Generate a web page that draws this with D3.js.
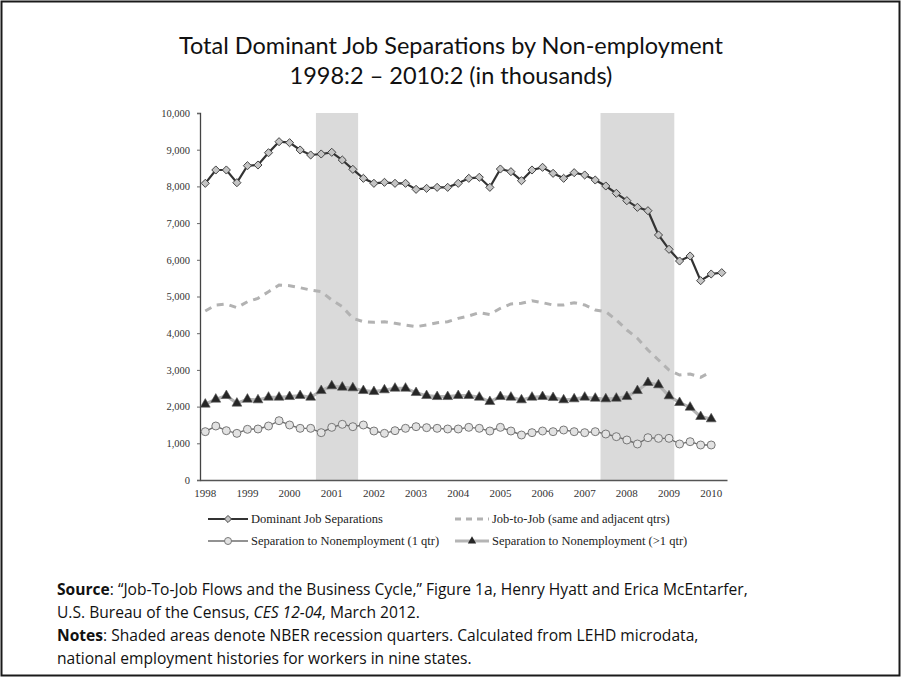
<!DOCTYPE html>
<html><head><meta charset="utf-8">
<script src="https://cdn.jsdelivr.net/npm/d3@7"></script>
<style>
html,body{margin:0;padding:0;background:#fff;}
svg{display:block;}
</style></head>
<body>
<svg id="chart" width="902" height="678"></svg>
<script>
// ---------- DATA ----------
const quarters = [
 "1998Q2","1998Q3","1998Q4","1999Q1","1999Q2","1999Q3","1999Q4","2000Q1","2000Q2","2000Q3",
 "2000Q4","2001Q1","2001Q2","2001Q3","2001Q4","2002Q1","2002Q2","2002Q3","2002Q4","2003Q1",
 "2003Q2","2003Q3","2003Q4","2004Q1","2004Q2","2004Q3","2004Q4","2005Q1","2005Q2","2005Q3",
 "2005Q4","2006Q1","2006Q2","2006Q3","2006Q4","2007Q1","2007Q2","2007Q3","2007Q4","2008Q1",
 "2008Q2","2008Q3","2008Q4","2009Q1","2009Q2","2009Q3","2009Q4","2010Q1","2010Q2","2010Q3"];
const yearLabels = ["1998","1999","2000","2001","2002","2003","2004","2005","2006","2007","2008","2009","2010"];
const yearLabelQuarters = ["1998Q2","1999Q2","2000Q2","2001Q2","2002Q2","2003Q2","2004Q2","2005Q2","2006Q2","2007Q2","2008Q2","2009Q2","2010Q2"];
const yTicks = [0,1000,2000,3000,4000,5000,6000,7000,8000,9000,10000];
const recessions = [["2001Q1","2001Q4"],["2007Q4","2009Q2"]];

const dominant = [8084,8447,8447,8101,8564,8583,8918,9218,9191,8992,
 8856,8883,8929,8719,8465,8220,8084,8111,8084,8084,
 7920,7947,7974,7974,8084,8220,8248,7974,8474,8401,
 8156,8447,8520,8356,8220,8374,8311,8174,8011,7812,
 7611,7430,7338,6676,6286,5967,6104,5431,5613,5649];
const jobToJob = [4605,4768,4796,4695,4859,4950,5131,5313,5295,5240,
 5177,5131,4905,4723,4405,4314,4296,4314,4269,4223,
 4178,4223,4287,4314,4405,4470,4560,4510,4678,4796,
 4814,4886,4832,4768,4768,4832,4768,4632,4587,4360,
 4087,3861,3542,3270,2997,2861,2888,2798,2951];
const sepOneQtr = [1317,1471,1344,1271,1381,1390,1471,1616,1499,1408,
 1408,1290,1435,1517,1453,1499,1335,1271,1344,1408,
 1453,1426,1408,1390,1390,1435,1408,1335,1435,1335,
 1226,1290,1335,1317,1362,1317,1290,1317,1253,1181,
 1090,981,1153,1135,1135,981,1044,954,954];
const sepMoreQtr = [2063,2199,2297,2090,2199,2180,2253,2253,2270,2297,
 2253,2433,2561,2526,2507,2433,2406,2452,2498,2498,
 2379,2297,2270,2270,2297,2297,2253,2134,2270,2253,
 2180,2253,2270,2243,2180,2207,2253,2225,2207,2225,
 2270,2433,2652,2589,2289,2107,1980,1726,1662];

const legendLabels = ["Dominant Job Separations","Job-to-Job (same and adjacent qtrs)",
 "Separation to Nonemployment (1 qtr)","Separation to Nonemployment (>1 qtr)"];

// ---------- CHART ----------
const svg = d3.select("#chart");
const serif = "'Liberation Serif','DejaVu Serif',serif";
const sans = "Lato,'Open Sans',sans-serif";
const sans2 = "'Open Sans',Lato,sans-serif";

// frame
svg.append("rect").attr("x",1.5).attr("y",1.5).attr("width",898).attr("height",674)
  .attr("fill","#fff").attr("stroke","#1a1a1a").attr("stroke-width",2);

// title
svg.append("text").attr("x",451).attr("y",54).attr("text-anchor","middle")
  .attr("font-family",sans).attr("font-size",23.5).attr("fill","#111")
  .text("Total Dominant Job Separations by Non-employment");
svg.append("text").attr("x",451).attr("y",84).attr("text-anchor","middle")
  .attr("font-family",sans).attr("font-size",23.5).attr("fill","#111")
  .text("1998:2 \u2013 2010:2 (in thousands)");

const x = d3.scaleBand().domain(quarters).range([200,727]);
const bw = x.bandwidth();
const cx = q => x(q) + bw/2;
const y = d3.scaleLinear().domain([0,10000]).range([480,113]);

// recession shading
svg.append("g").selectAll("rect").data(recessions).join("rect")
  .attr("x", d => x(d[0]))
  .attr("width", d => x(d[1]) + bw - x(d[0]))
  .attr("y", y(10000)).attr("height", y(0)-y(10000))
  .attr("fill","#dadada");

// y axis
const yAxis = d3.axisLeft(y).tickValues(yTicks).tickFormat(d3.format(",")).tickSize(3).tickPadding(7);
const gy = svg.append("g").attr("transform","translate(200,0)").call(yAxis);
gy.select(".domain").attr("stroke","#444").attr("stroke-width",1.3);
gy.selectAll(".tick line").attr("stroke","#666");
gy.selectAll("text").attr("font-family",serif).attr("font-size",10.5).attr("fill","#333");

// x axis
const xAxis = d3.axisBottom(x).tickValues(yearLabelQuarters)
  .tickFormat((d,i) => yearLabels[i]).tickSize(0).tickPadding(9);
const gx = svg.append("g").attr("transform","translate(0,480)").call(xAxis);
gx.select(".domain").attr("stroke","#555").attr("stroke-width",1.3);
gx.selectAll("text").attr("font-family",serif).attr("font-size",11).attr("fill","#333");

const line = d3.line().x((d,i) => cx(quarters[i])).y(d => y(d));

// job-to-job dashed
svg.append("path").datum(jobToJob).attr("d",line).attr("fill","none")
  .attr("stroke","#b2b2b2").attr("stroke-width",3).attr("stroke-dasharray","7,6");

// sep >1 qtr
svg.append("path").datum(sepMoreQtr).attr("d",line).attr("fill","none")
  .attr("stroke","#b5b5b5").attr("stroke-width",3.2);
svg.append("g").selectAll("path").data(sepMoreQtr).join("path")
  .attr("transform",(d,i)=>`translate(${cx(quarters[i])},${y(d)})`)
  .attr("d", d3.symbol(d3.symbolTriangle, 42))
  .attr("fill","#262626").attr("stroke","#555").attr("stroke-width",0.6);

// sep 1 qtr
svg.append("path").datum(sepOneQtr).attr("d",line).attr("fill","none")
  .attr("stroke","#6e6e6e").attr("stroke-width",1.4);
svg.append("g").selectAll("circle").data(sepOneQtr).join("circle")
  .attr("cx",(d,i)=>cx(quarters[i])).attr("cy",d=>y(d)).attr("r",4)
  .attr("fill","#e2e2e2").attr("stroke","#777").attr("stroke-width",1);

// dominant
svg.append("path").datum(dominant).attr("d",line).attr("fill","none")
  .attr("stroke","#333").attr("stroke-width",2.2);
svg.append("g").selectAll("path").data(dominant).join("path")
  .attr("transform",(d,i)=>`translate(${cx(quarters[i])},${y(d)})`)
  .attr("d", d3.symbol(d3.symbolDiamond2, 42))
  .attr("fill","#c4c4c4").attr("stroke","#444").attr("stroke-width",1);

// legend
const leg = svg.append("g").attr("font-family",serif).attr("font-size",12.5).attr("fill","#222");
const legendPos = [[208,519],[455,519],[208,541],[455,541]];
legendPos.forEach((p,i)=>{
  const g = leg.append("g").attr("transform",`translate(${p[0]},${p[1]})`);
  if(i===0){
    g.append("line").attr("x1",0).attr("x2",40).attr("stroke","#333").attr("stroke-width",2.2);
    g.append("path").attr("transform","translate(20,0)").attr("d",d3.symbol(d3.symbolDiamond2,32))
      .attr("fill","#c4c4c4").attr("stroke","#444");
  } else if(i===1){
    g.append("line").attr("x1",0).attr("x2",34).attr("stroke","#b2b2b2").attr("stroke-width",3).attr("stroke-dasharray","6,5");
  } else if(i===2){
    g.append("line").attr("x1",0).attr("x2",40).attr("stroke","#6e6e6e").attr("stroke-width",1.4);
    g.append("circle").attr("cx",20).attr("r",3.5).attr("fill","#e2e2e2").attr("stroke","#777");
  } else {
    g.append("line").attr("x1",0).attr("x2",34).attr("stroke","#b5b5b5").attr("stroke-width",3.2);
    g.append("path").attr("transform","translate(17,0)").attr("d",d3.symbol(d3.symbolTriangle,30)).attr("fill","#262626");
  }
  g.append("text").attr("x", i%2===0 ? 43 : 37).attr("dy","0.35em").text(legendLabels[i]);
});

// footer
const foot = svg.append("g").attr("font-family",sans2).attr("font-size",15.6).attr("fill","#111");
const f1 = foot.append("text").attr("x",57).attr("y",595);
f1.append("tspan").attr("font-weight","bold").text("Source");
f1.append("tspan").text(": \u201cJob-To-Job Flows and the Business Cycle,\u201d Figure 1a,  Henry Hyatt and Erica McEntarfer,");
const f2 = foot.append("text").attr("x",57).attr("y",618);
f2.append("tspan").text("U.S. Bureau of the Census, ");
f2.append("tspan").attr("font-style","italic").text("CES 12-04");
f2.append("tspan").text(", March 2012.");
const f3 = foot.append("text").attr("x",57).attr("y",641);
f3.append("tspan").attr("font-weight","bold").text("Notes");
f3.append("tspan").text(": Shaded areas denote NBER recession quarters.  Calculated from LEHD microdata,");
foot.append("text").attr("x",57).attr("y",664).text("national employment histories for workers in nine states.");
</script>
</body></html>
